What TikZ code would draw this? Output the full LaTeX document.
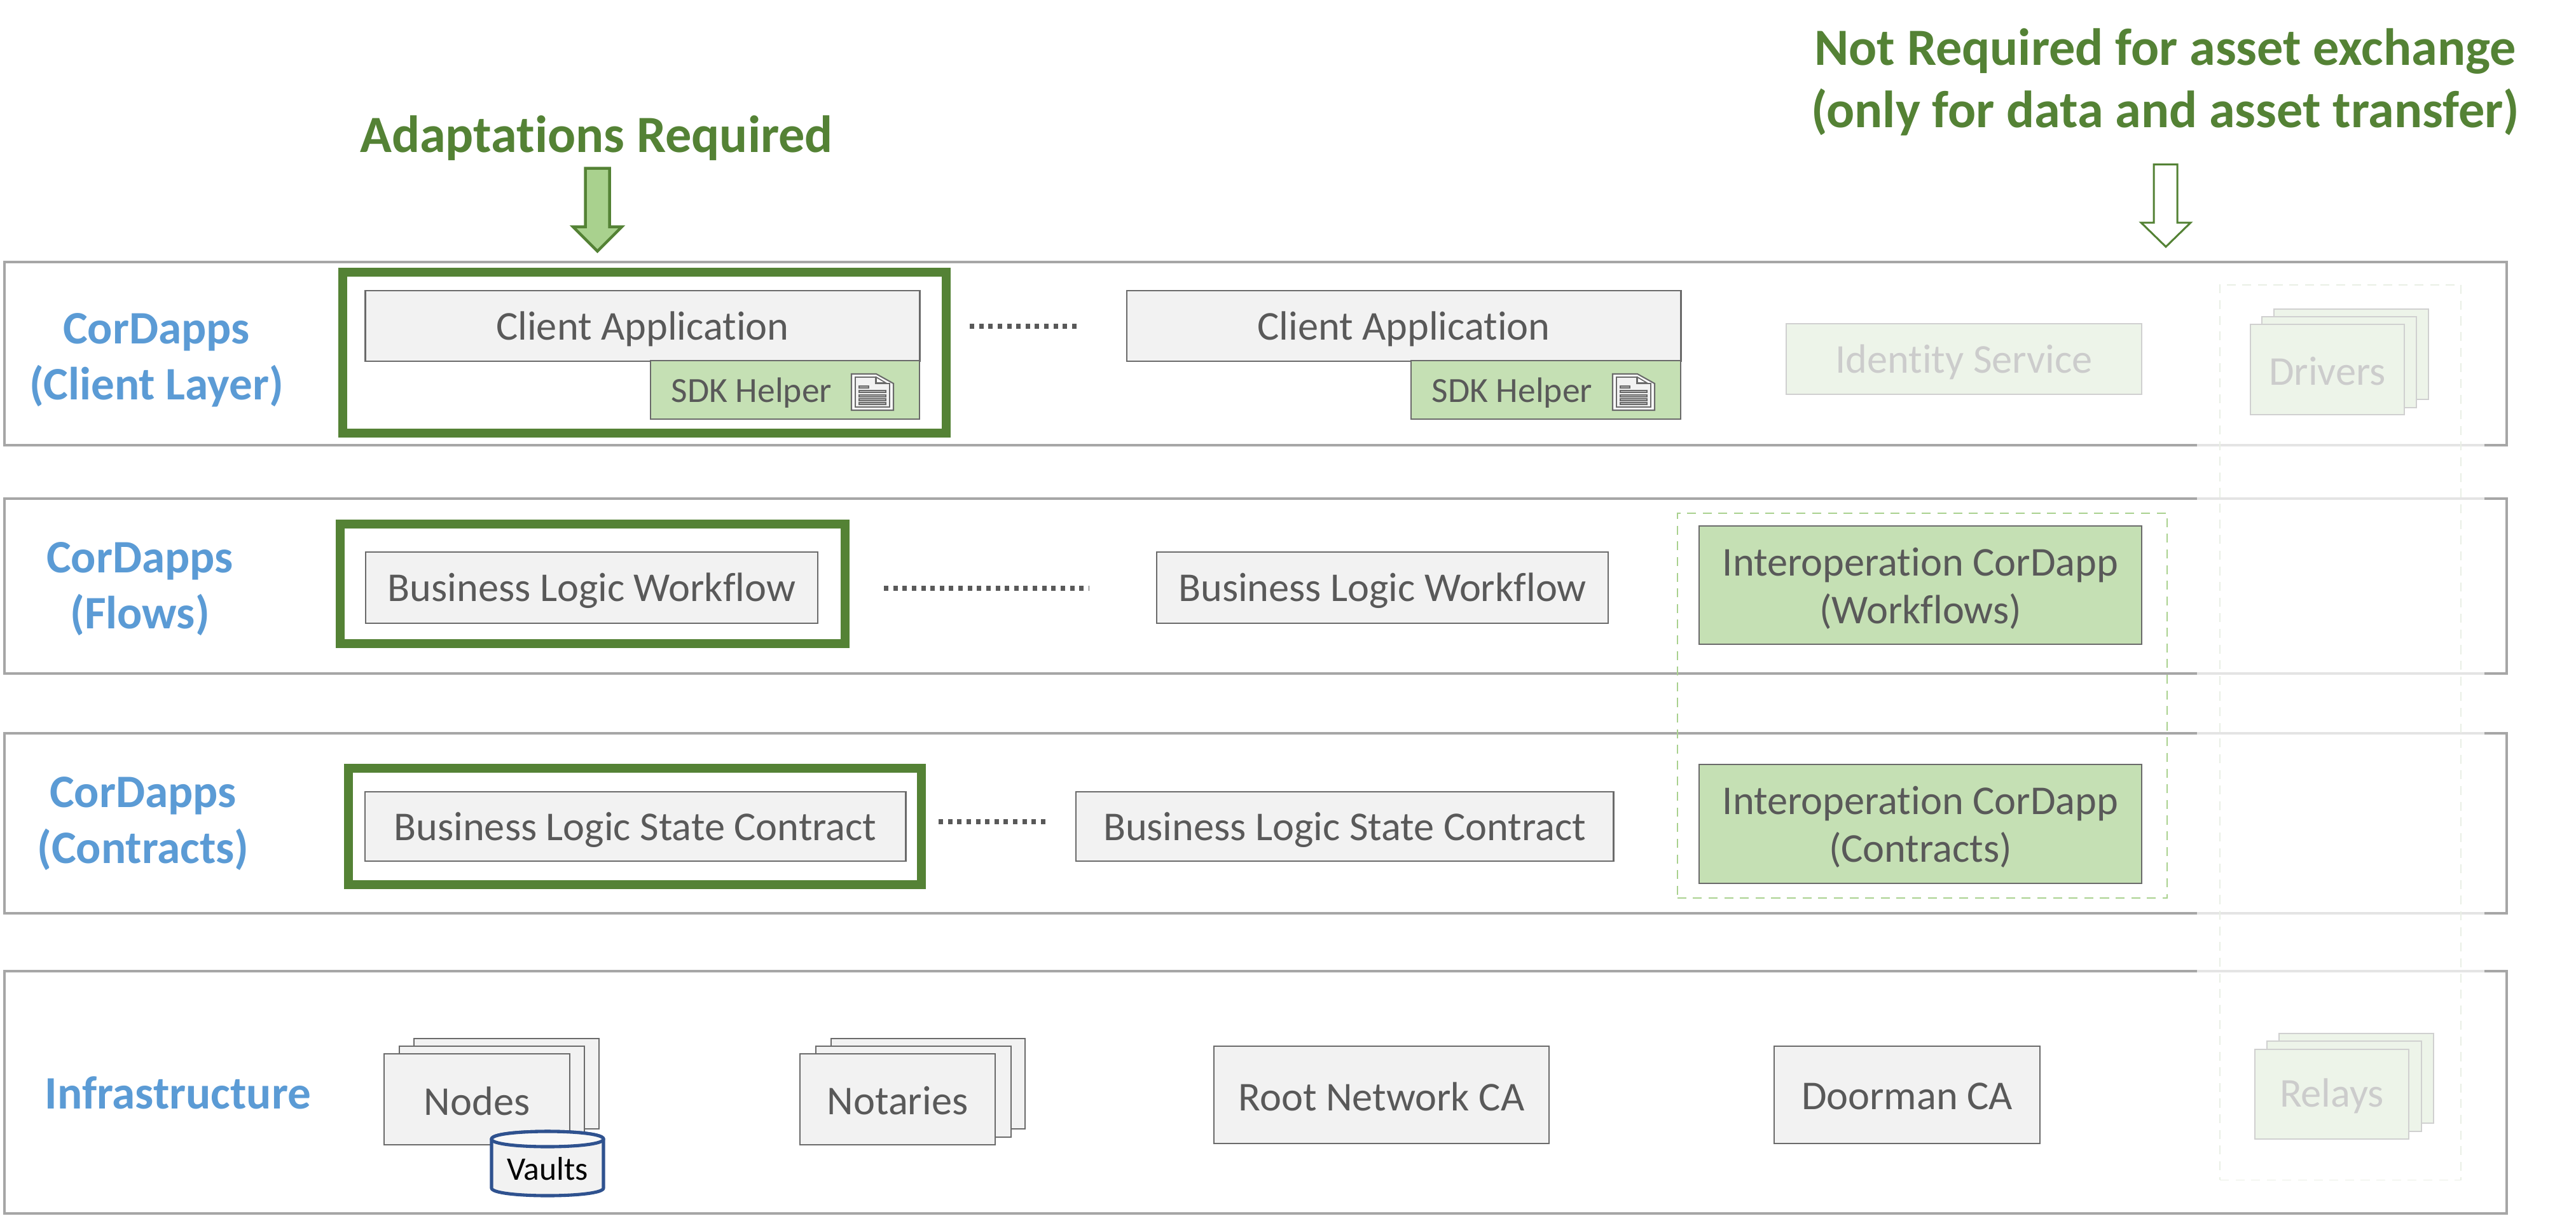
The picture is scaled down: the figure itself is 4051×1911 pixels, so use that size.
\documentclass[tikz,border=0pt]{standalone}
\usepackage{fontspec}
\setmainfont[Ligatures=NoCommon]{Carlito}
\definecolor{bandgray}{HTML}{A6A6A6}
\definecolor{fadegray}{HTML}{E4E4E4}
\definecolor{boxline}{HTML}{6A6A6A}
\definecolor{boxtext}{HTML}{595959}
\definecolor{boxfill}{HTML}{F2F2F2}
\definecolor{sdkfill}{HTML}{C5E0B4}
\definecolor{fadefill}{HTML}{EDF4E9}
\definecolor{fadeline}{HTML}{D0D0D0}
\definecolor{fadetext}{HTML}{CCCCCC}
\definecolor{headgreen}{HTML}{548235}
\definecolor{labelblue}{HTML}{5B9BD5}
\definecolor{arrowfill}{HTML}{A9D18E}
\definecolor{vaultblue}{HTML}{2F528F}
\newcommand{\mainsz}{\fontsize{18.3pt}{21.3pt}\selectfont}
\newcommand{\smallsz}{\fontsize{15.8pt}{18pt}\selectfont}
\newcommand{\vaultsz}{\fontsize{14.7pt}{18pt}\selectfont}
\newcommand{\labelsz}{\fontsize{20.8pt}{25pt}\bfseries\selectfont}
\newcommand{\headsz}{\fontsize{23.4pt}{28pt}\bfseries\selectfont}
\newcommand{\textdrop}{5}
% \bx{name}{style}{x1}{y1}{x2}{y2}{text}: box node plus its text node, set slightly low as in the reference
\newcommand{\bx}[7]{%
  \pgfmathsetmacro{\bxw}{(#5-#3)*0.1}%
  \pgfmathsetmacro{\bxh}{(#6-#4)*0.1}%
  \node[#2,minimum width=\bxw mm,minimum height=\bxh mm] (#1) at ({(#3+#5)/2},{(#4+#6)/2}) {};
  \node[#2,draw=none,fill=none] (#1text) at ({(#3+#5)/2},{(#4+#6)/2+\textdrop}) {#7};}
% \docicon{x}{y}: page icon with top-left corner at x,y
\newcommand{\docicon}[2]{%
  \begin{scope}[shift={(#1,#2)}]
    \draw[boxline,line width=.6pt,fill=white] (0,0) -- (39,0) -- (66,15) -- (66,57) -- (0,57) -- cycle;
    \draw[boxline,line width=.6pt,fill=boxfill] (6,5) -- (38,5) -- (38,15) -- (60,15) -- (60,52) -- (6,52) -- cycle;
    \draw[boxline,line width=.5pt,fill=white] (39,5) -- (54,14) -- (39,14) -- cycle;
    \foreach \ly in {26,33,39,45}{\draw[boxline,fill=fadeline,line width=.4pt] (12,\ly) rectangle (54,{\ly+3});}
    \draw[boxline,fill=fadeline,line width=.4pt] (12,19) rectangle (27,22);
  \end{scope}}
\tikzset{
  x=0.01cm,y=-0.01cm,
  base/.style={rectangle,inner sep=0pt,outer sep=0pt,align=center},
  band/.style={base,draw=bandgray,line width=1.05pt},
  fadeband/.style={draw=fadegray,line width=1.05pt},
  grbox/.style={base,draw=headgreen,line width=3.9pt},
  gray box/.style={base,draw=boxline,line width=.7pt,fill=boxfill,text=boxtext,font=\mainsz},
  sdk box/.style={base,draw=boxline,line width=.7pt,fill=sdkfill},
  sdk text/.style={base,text=boxtext,font=\smallsz},
  interop box/.style={base,draw=boxline,line width=.7pt,fill=sdkfill,text=boxtext,font=\mainsz},
  faded box/.style={base,draw=fadeline,line width=.7pt,fill=fadefill,text=fadetext,font=\mainsz},
  side label/.style={base,text=labelblue,font=\labelsz},
  heading/.style={base,text=headgreen,font=\headsz},
  dots/.style={draw=boxtext,line width=2.2pt,dash pattern=on 2pt off 2.16pt},
  greendash/.style={base,draw=arrowfill,line width=.55pt,dash pattern=on 4pt off 3pt},
  fadedash/.style={base,draw=fadefill!85!fadeline,line width=.55pt,dash pattern=on 4pt off 3pt},
}
\begin{document}
\begin{tikzpicture}
\useasboundingbox (0,0) rectangle (4051,1911);
% bands
\bx{bandA}{band}{8}{412}{3941}{700}{}
\bx{bandB}{band}{8}{784}{3941}{1059}{}
\bx{bandC}{band}{8}{1153}{3941}{1436}{}
\bx{bandD}{band}{8}{1527}{3941}{1908}{}
\foreach \fy in {700,784,1059,1153,1436,1527}{\draw[fadeband] (3455,\fy) -- (3907,\fy);}
% side labels
\node[side label] (lblA) at (246,566) {CorDapps\\(Client Layer)};
\node[side label] (lblB) at (220,926) {CorDapps\\(Flows)};
\node[side label] (lblC) at (225,1295) {CorDapps\\(Contracts)};
\node[side label] (lblD) at (280,1718) {Infrastructure};
% headings and arrows
\node[heading] (headL) at (938,217) {Adaptations Required};
\node[heading] (headR) at (3405,129) {Not Required for asset exchange\\(only for data and asset transfer)};
\draw[headgreen,line width=1.28pt,fill=arrowfill,line join=miter,miter limit=10]
  (920.5,264.5) -- (958.5,264.5) -- (958.5,356.5) -- (978,356.5) -- (939.5,395) -- (901,356.5) -- (920.5,356.5) -- cycle;
\draw[headgreen,line width=.85pt,fill=white,line join=miter,miter limit=10]
  (3387,258.5) -- (3424,258.5) -- (3424,350) -- (3445,350) -- (3406,388) -- (3367,350) -- (3387,350) -- cycle;
% green highlight frames
\bx{frameA}{grbox}{539}{428}{1488}{681}{}
\bx{frameB}{grbox}{535}{824}{1329}{1012}{}
\bx{frameC}{grbox}{548}{1208}{1449}{1391}{}
% client layer
\bx{clientA}{gray box}{575}{457}{1446}{568}{Client Application}
\bx{sdkA}{sdk box}{1023}{567}{1446}{659}{}
\node[sdk text] (sdkAlabel) at (1182,618) {SDK Helper};
\docicon{1339}{588}
\coordinate (dotsAa) at (1525,513);
\coordinate (dotsAb) at (1696,513);
\draw[dots] (dotsAa) -- (dotsAb);
\bx{clientB}{gray box}{1772}{457}{2643}{568}{Client Application}
\bx{sdkB}{sdk box}{2219}{567}{2643}{659}{}
\node[sdk text] (sdkBlabel) at (2378,618) {SDK Helper};
\docicon{2536}{588}
\bx{identity}{faded box}{2809}{509}{3368}{620}{Identity Service}
% flows
\bx{flowA}{gray box}{575}{868}{1286}{980}{Business Logic Workflow}
\coordinate (dotsBa) at (1390,925);
\coordinate (dotsBb) at (1712,925);
\draw[dots] (dotsBa) -- (dotsBb);
\bx{flowB}{gray box}{1819}{868}{2529}{980}{Business Logic Workflow}
\bx{interopA}{interop box}{2672}{827}{3368}{1013}{Interoperation CorDapp\\(Workflows)}
% contracts
\bx{stateA}{gray box}{574}{1245}{1424}{1354}{Business Logic State Contract}
\coordinate (dotsCa) at (1476,1292);
\coordinate (dotsCb) at (1647,1292);
\draw[dots] (dotsCa) -- (dotsCb);
\bx{stateB}{gray box}{1692}{1245}{2537}{1354}{Business Logic State Contract}
\bx{interopB}{interop box}{2672}{1202}{3368}{1389}{Interoperation CorDapp\\(Contracts)}
\bx{interopFrame}{greendash}{2638}{807}{3408}{1412}{}
% infrastructure
\renewcommand{\textdrop}{2.5}
\bx{nodesC}{gray box}{651}{1633}{942}{1775}{}
\bx{nodesB}{gray box}{628}{1645}{919}{1788}{}
\bx{nodesA}{gray box}{604}{1657}{896}{1800}{Nodes}
\bx{notC}{gray box}{1307}{1633}{1612}{1775}{}
\bx{notB}{gray box}{1283}{1645}{1590}{1788}{}
\bx{notA}{gray box}{1258}{1657}{1565}{1800}{Notaries}
\bx{rootca}{gray box}{1909}{1645}{2436}{1798}{Root Network CA}
\bx{doorman}{gray box}{2790}{1645}{3208}{1798}{Doorman CA}
% vault cylinder
\draw[vaultblue,line width=1.45pt,fill=boxfill]
  (773,1791) -- (773,1868) .. controls (773,1884) and (949,1884) .. (949,1868) -- (949,1791)
  .. controls (949,1775) and (773,1775) .. (773,1791) -- cycle;
\draw[vaultblue,line width=1.45pt,fill=boxfill!50!white]
  (773,1791) .. controls (773,1775) and (949,1775) .. (949,1791)
  .. controls (949,1807) and (773,1807) .. (773,1791) -- cycle;
\node[base,text=black,font=\vaultsz] (vaults) at (861,1838) {Vaults};
% faded drivers and relays
\bx{drvC}{faded box}{3576}{486}{3819}{628}{}
\bx{drvB}{faded box}{3557}{498}{3800}{641}{}
\bx{drvA}{faded box}{3539}{510}{3781}{652}{Drivers}
\bx{relC}{faded box}{3584}{1625}{3827}{1766}{}
\bx{relB}{faded box}{3565}{1637}{3808}{1779}{}
\bx{relA}{faded box}{3546}{1650}{3788}{1791}{Relays}
\bx{fadeFrame}{fadedash}{3491}{448}{3870}{1855}{}
\end{tikzpicture}
\end{document}
